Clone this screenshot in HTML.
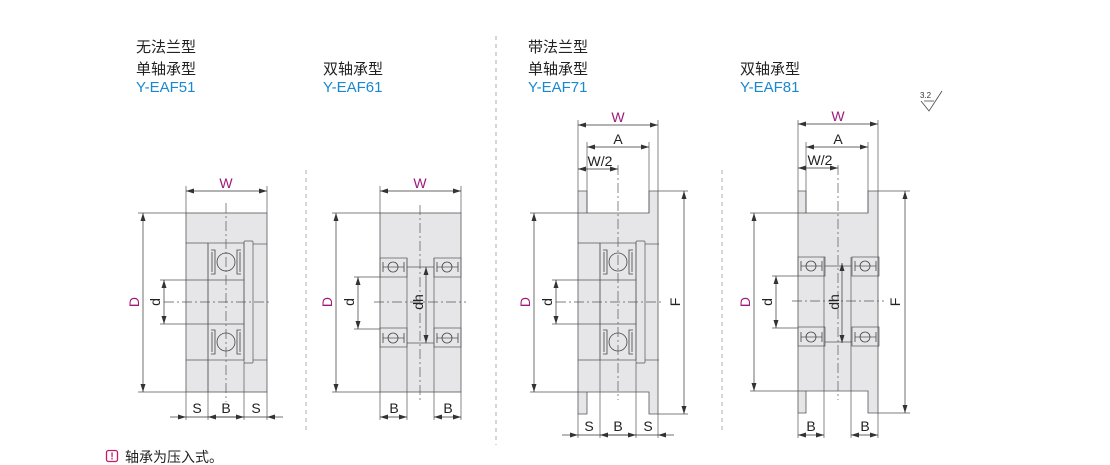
<!DOCTYPE html>
<html><head><meta charset="utf-8"><style>
body{margin:0;background:#fff;width:1110px;height:465px;overflow:hidden}
svg{display:block}
text{font-family:"Liberation Sans","Noto Sans CJK SC",sans-serif}
.ln{stroke:#444;stroke-width:0.8;fill:none}
.th{stroke:#555;stroke-width:0.7;fill:none}
.cl{stroke:#555;stroke-width:0.7;stroke-dasharray:10 3 2 3;fill:none}
.dv{stroke:#bbb;stroke-width:1.2;stroke-dasharray:4 4;fill:none}
.dim{stroke:#333;stroke-width:0.7;fill:none}
.body{fill:#e6e6e8;stroke:#555;stroke-width:0.8}
.m{fill:#a0197a;font-size:14px}
.k{fill:#222;font-size:14px}
.h{fill:#222;font-size:15px}
.b{fill:#1a88d0;font-size:15px}
</style></head><body>
<svg width="1110" height="465" viewBox="0 0 1110 465">
<defs>
<marker id="a" markerWidth="8" markerHeight="6" refX="8" refY="3" orient="auto-start-reverse" markerUnits="userSpaceOnUse"><path d="M0,0.5 L8,3 L0,5.5z" fill="#333"/></marker>
<g id="sb">
 <rect x="208" y="243" width="36" height="117" class="th" fill="none"/>
 <rect x="244" y="241" width="9" height="122" rx="1" class="th" fill="#e6e6e8"/>
 <line x1="186" y1="243" x2="208" y2="243" class="th"/>
 <line x1="253" y1="244" x2="267" y2="244" class="th"/>
 <line x1="186" y1="360" x2="208" y2="360" class="th"/>
 <line x1="253" y1="360" x2="267" y2="360" class="th"/>
 <line x1="208" y1="280" x2="244" y2="280" class="th"/>
 <line x1="208" y1="324" x2="244" y2="324" class="th"/>
 <path d="M211,250 h4 v24 h-4 M241,250 h-4 v24 h4 M211,330 h4 v24 h-4 M241,330 h-4 v24 h4" class="ln" stroke-width="1"/>
 <path d="M212,252 v20 M240,252 v20 M212,332 v20 M240,332 v20" class="ln" stroke-width="1.6"/>
 <circle cx="226" cy="262" r="9" fill="#e6e6e8" class="ln"/>
 <circle cx="226" cy="342" r="9" fill="#e6e6e8" class="ln"/>
</g>
<g id="db">
 <rect x="380" y="258" width="27" height="19" class="th"/>
 <rect x="434" y="258" width="27" height="19" class="th"/>
 <rect x="380" y="328" width="27" height="19" class="th"/>
 <rect x="434" y="328" width="27" height="19" class="th"/>
 <line x1="383" y1="267" x2="404" y2="267" class="th"/><line x1="437" y1="267" x2="458" y2="267" class="th"/>
 <line x1="383" y1="338" x2="404" y2="338" class="th"/><line x1="437" y1="338" x2="458" y2="338" class="th"/>
 <circle cx="393" cy="267" r="5" fill="#e6e6e8" class="ln"/>
 <circle cx="447" cy="267" r="5" fill="#e6e6e8" class="ln"/>
 <circle cx="393" cy="338" r="5" fill="#e6e6e8" class="ln"/>
 <circle cx="447" cy="338" r="5" fill="#e6e6e8" class="ln"/>
 <path d="M383,262v10M404,262v10M437,262v10M458,262v10M383,333v10M404,333v10M437,333v10M458,333v10" class="ln" stroke-width="1.2"/>
 <line x1="407" y1="267" x2="434" y2="267" class="th"/>
 <line x1="407" y1="343" x2="434" y2="343" class="th"/>
</g>
</defs>

<line x1="306" y1="170" x2="306" y2="432" class="dv"/>
<line x1="496" y1="36" x2="496" y2="445" class="dv"/>
<line x1="722" y1="170" x2="722" y2="432" class="dv"/>

<text x="136" y="52" class="h">无法兰型</text>
<text x="136" y="74" class="h">单轴承型</text>
<text x="136" y="92" class="b">Y-EAF51</text>
<text x="323" y="74" class="h">双轴承型</text>
<text x="323" y="92" class="b">Y-EAF61</text>
<text x="528" y="52" class="h">带法兰型</text>
<text x="528" y="74" class="h">单轴承型</text>
<text x="528" y="92" class="b">Y-EAF71</text>
<text x="740" y="74" class="h">双轴承型</text>
<text x="740" y="92" class="b">Y-EAF81</text>

<text x="920" y="98" style="font-size:8px;fill:#333">3.2</text>
<path d="M921,101 L929,111 L942,91 M924,101 L934,101" class="ln"/>

<!-- Diagram 1 -->
<rect x="186" y="213" width="81" height="179" class="body"/>
<use href="#sb"/>
<line x1="208" y1="360" x2="208" y2="420" class="th"/><line x1="244" y1="363" x2="244" y2="420" class="th"/>
<line x1="208" y1="243" x2="208" y2="392" class="th"/>
<line x1="186" y1="392" x2="186" y2="420" class="th"/><line x1="267" y1="392" x2="267" y2="420" class="th"/>
<line x1="226" y1="203" x2="226" y2="402" class="cl"/>
<line x1="164" y1="302" x2="272" y2="302" class="cl"/>
<line x1="186" y1="186" x2="186" y2="213" class="th"/><line x1="267" y1="186" x2="267" y2="213" class="th"/>
<line x1="186" y1="191" x2="267" y2="191" class="dim" marker-start="url(#a)" marker-end="url(#a)"/>
<text x="226" y="188" class="m" text-anchor="middle">W</text>
<line x1="138" y1="213" x2="186" y2="213" class="th"/><line x1="138" y1="392" x2="186" y2="392" class="th"/>
<line x1="143" y1="213" x2="143" y2="392" class="dim" marker-start="url(#a)" marker-end="url(#a)"/>
<text transform="translate(139,302) rotate(-90)" class="m" text-anchor="middle">D</text>
<line x1="160" y1="280" x2="208" y2="280" class="th"/><line x1="160" y1="324" x2="208" y2="324" class="th"/>
<line x1="164" y1="280" x2="164" y2="324" class="dim" marker-start="url(#a)" marker-end="url(#a)"/>
<text transform="translate(160,302) rotate(-90)" class="k" text-anchor="middle">d</text>
<line x1="170" y1="417" x2="186" y2="417" class="dim" marker-end="url(#a)"/>
<line x1="208" y1="417" x2="244" y2="417" class="dim" marker-start="url(#a)" marker-end="url(#a)"/>
<line x1="283" y1="417" x2="267" y2="417" class="dim" marker-end="url(#a)"/>
<line x1="186" y1="417" x2="267" y2="417" class="dim"/>
<text x="197" y="413" class="k" text-anchor="middle">S</text>
<text x="226" y="413" class="k" text-anchor="middle">B</text>
<text x="256" y="413" class="k" text-anchor="middle">S</text>

<!-- Diagram 2 -->
<rect x="380" y="213" width="81" height="179" class="body"/>
<use href="#db"/>
<line x1="407" y1="258" x2="407" y2="420" class="th"/><line x1="434" y1="258" x2="434" y2="420" class="th"/>
<line x1="380" y1="392" x2="380" y2="420" class="th"/><line x1="461" y1="392" x2="461" y2="420" class="th"/>
<line x1="420" y1="205" x2="420" y2="400" class="cl"/>
<line x1="374" y1="302" x2="466" y2="302" class="cl"/>
<line x1="380" y1="186" x2="380" y2="213" class="th"/><line x1="461" y1="186" x2="461" y2="213" class="th"/>
<line x1="380" y1="191" x2="461" y2="191" class="dim" marker-start="url(#a)" marker-end="url(#a)"/>
<text x="420" y="188" class="m" text-anchor="middle">W</text>
<line x1="332" y1="213" x2="380" y2="213" class="th"/><line x1="332" y1="392" x2="380" y2="392" class="th"/>
<line x1="336" y1="213" x2="336" y2="392" class="dim" marker-start="url(#a)" marker-end="url(#a)"/>
<text transform="translate(332,302) rotate(-90)" class="m" text-anchor="middle">D</text>
<line x1="354" y1="277" x2="380" y2="277" class="th"/><line x1="354" y1="329" x2="380" y2="329" class="th"/>
<line x1="358" y1="277" x2="358" y2="329" class="dim" marker-start="url(#a)" marker-end="url(#a)"/>
<text transform="translate(354,302) rotate(-90)" class="k" text-anchor="middle">d</text>
<line x1="426" y1="267" x2="426" y2="343" class="dim" marker-start="url(#a)" marker-end="url(#a)"/>
<text transform="translate(423,302) rotate(-90)" class="k" text-anchor="middle">dh</text>
<line x1="380" y1="417" x2="407" y2="417" class="dim" marker-start="url(#a)" marker-end="url(#a)"/>
<line x1="434" y1="417" x2="461" y2="417" class="dim" marker-start="url(#a)" marker-end="url(#a)"/>
<text x="394" y="413" class="k" text-anchor="middle">B</text>
<text x="448" y="413" class="k" text-anchor="middle">B</text>

<!-- Diagram 3 -->
<path d="M578,191H587V213H649V191H658V414H649V392H587V414H578Z" class="body"/>
<g transform="translate(392,0)"><use href="#sb"/></g>
<line x1="600" y1="243" x2="600" y2="438" class="th"/><line x1="636" y1="363" x2="636" y2="438" class="th"/>
<line x1="578" y1="414" x2="578" y2="438" class="th"/><line x1="658" y1="414" x2="658" y2="438" class="th"/>
<line x1="618" y1="165" x2="618" y2="400" class="cl"/>
<line x1="556" y1="302" x2="664" y2="302" class="cl"/>
<line x1="578" y1="120" x2="578" y2="191" class="th"/><line x1="658" y1="120" x2="658" y2="191" class="th"/>
<line x1="587" y1="142" x2="587" y2="213" class="th"/><line x1="649" y1="142" x2="649" y2="213" class="th"/>
<line x1="578" y1="125" x2="658" y2="125" class="dim" marker-start="url(#a)" marker-end="url(#a)"/>
<text x="618" y="122" class="m" text-anchor="middle">W</text>
<line x1="587" y1="147" x2="649" y2="147" class="dim" marker-start="url(#a)" marker-end="url(#a)"/>
<text x="618" y="144" class="k" text-anchor="middle">A</text>
<line x1="578" y1="169" x2="618" y2="169" class="dim" marker-start="url(#a)" marker-end="url(#a)"/>
<text x="600" y="166" class="k" text-anchor="middle">W/2</text>
<line x1="530" y1="213" x2="587" y2="213" class="th"/><line x1="530" y1="392" x2="587" y2="392" class="th"/>
<line x1="534" y1="213" x2="534" y2="392" class="dim" marker-start="url(#a)" marker-end="url(#a)"/>
<text transform="translate(530,302) rotate(-90)" class="m" text-anchor="middle">D</text>
<line x1="552" y1="280" x2="600" y2="280" class="th"/><line x1="552" y1="324" x2="600" y2="324" class="th"/>
<line x1="556" y1="280" x2="556" y2="324" class="dim" marker-start="url(#a)" marker-end="url(#a)"/>
<text transform="translate(552,302) rotate(-90)" class="k" text-anchor="middle">d</text>
<line x1="658" y1="191" x2="688" y2="191" class="th"/><line x1="658" y1="414" x2="688" y2="414" class="th"/>
<line x1="684" y1="191" x2="684" y2="414" class="dim" marker-start="url(#a)" marker-end="url(#a)"/>
<text transform="translate(680,302) rotate(-90)" class="k" text-anchor="middle">F</text>
<line x1="562" y1="435" x2="578" y2="435" class="dim" marker-end="url(#a)"/>
<line x1="600" y1="435" x2="636" y2="435" class="dim" marker-start="url(#a)" marker-end="url(#a)"/>
<line x1="674" y1="435" x2="658" y2="435" class="dim" marker-end="url(#a)"/>
<line x1="578" y1="435" x2="658" y2="435" class="dim"/>
<text x="589" y="431" class="k" text-anchor="middle">S</text>
<text x="618" y="431" class="k" text-anchor="middle">B</text>
<text x="648" y="431" class="k" text-anchor="middle">S</text>

<!-- Diagram 4 -->
<path d="M798,191H806V213H868V191H878V413H868V391H806V413H798Z" class="body"/>
<g transform="translate(418,-1)"><use href="#db"/></g>
<line x1="824" y1="257" x2="824" y2="438" class="th"/><line x1="851" y1="257" x2="851" y2="438" class="th"/>
<line x1="798" y1="413" x2="798" y2="438" class="th"/><line x1="878" y1="413" x2="878" y2="438" class="th"/>
<line x1="838" y1="165" x2="838" y2="400" class="cl"/>
<line x1="792" y1="301" x2="884" y2="301" class="cl"/>
<line x1="798" y1="120" x2="798" y2="191" class="th"/><line x1="878" y1="120" x2="878" y2="191" class="th"/>
<line x1="806" y1="142" x2="806" y2="213" class="th"/><line x1="868" y1="142" x2="868" y2="213" class="th"/>
<line x1="798" y1="124" x2="878" y2="124" class="dim" marker-start="url(#a)" marker-end="url(#a)"/>
<text x="838" y="121" class="m" text-anchor="middle">W</text>
<line x1="806" y1="147" x2="868" y2="147" class="dim" marker-start="url(#a)" marker-end="url(#a)"/>
<text x="838" y="144" class="k" text-anchor="middle">A</text>
<line x1="798" y1="168" x2="838" y2="168" class="dim" marker-start="url(#a)" marker-end="url(#a)"/>
<text x="820" y="165" class="k" text-anchor="middle">W/2</text>
<line x1="750" y1="213" x2="806" y2="213" class="th"/><line x1="750" y1="391" x2="806" y2="391" class="th"/>
<line x1="754" y1="213" x2="754" y2="391" class="dim" marker-start="url(#a)" marker-end="url(#a)"/>
<text transform="translate(750,302) rotate(-90)" class="m" text-anchor="middle">D</text>
<line x1="772" y1="276" x2="798" y2="276" class="th"/><line x1="772" y1="328" x2="798" y2="328" class="th"/>
<line x1="776" y1="276" x2="776" y2="328" class="dim" marker-start="url(#a)" marker-end="url(#a)"/>
<text transform="translate(772,302) rotate(-90)" class="k" text-anchor="middle">d</text>
<line x1="842" y1="263" x2="842" y2="343" class="dim" marker-start="url(#a)" marker-end="url(#a)"/>
<text transform="translate(839,302) rotate(-90)" class="k" text-anchor="middle">dh</text>
<line x1="878" y1="191" x2="910" y2="191" class="th"/><line x1="878" y1="413" x2="910" y2="413" class="th"/>
<line x1="905" y1="191" x2="905" y2="413" class="dim" marker-start="url(#a)" marker-end="url(#a)"/>
<text transform="translate(900,302) rotate(-90)" class="k" text-anchor="middle">F</text>
<line x1="798" y1="435" x2="824" y2="435" class="dim" marker-start="url(#a)" marker-end="url(#a)"/>
<line x1="851" y1="435" x2="878" y2="435" class="dim" marker-start="url(#a)" marker-end="url(#a)"/>
<text x="811" y="431" class="k" text-anchor="middle">B</text>
<text x="865" y="431" class="k" text-anchor="middle">B</text>

<rect x="106.5" y="450.5" width="11" height="11" rx="2" fill="none" stroke="#c8186e" stroke-width="1.3"/>
<text x="112" y="459.5" text-anchor="middle" style="font-size:10px;font-weight:bold;fill:#c8186e">!</text>
<text x="125" y="462" class="k">轴承为压入式。</text>
</svg>
</body></html>
